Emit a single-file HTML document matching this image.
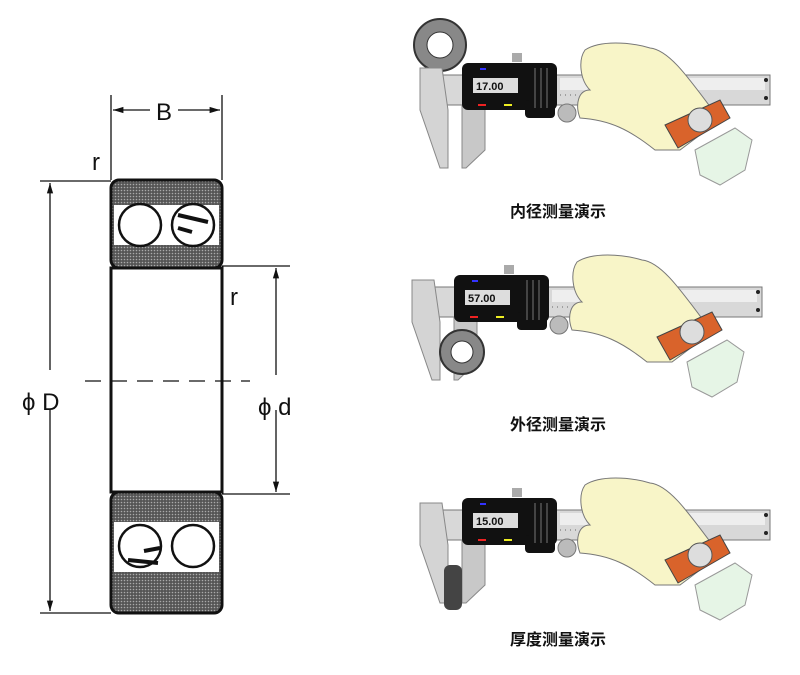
<!DOCTYPE html>
<html><head><meta charset="utf-8"><style>
body{margin:0;background:#fff;}
svg{display:block;}
.cap{font-family:"Liberation Sans","Noto Sans CJK SC",sans-serif;font-size:16px;fill:#111;font-weight:bold;}
.lbl{font-family:"Liberation Sans",sans-serif;font-size:24px;fill:#111;}
.dig{font-family:"Liberation Sans",sans-serif;font-size:11px;font-weight:bold;fill:#111;}
</style></head><body>
<svg width="800" height="675" viewBox="0 0 800 675" xmlns="http://www.w3.org/2000/svg">
<defs>
<pattern id="dots" width="3" height="3" patternUnits="userSpaceOnUse">
<rect width="3" height="3" fill="#555"/><circle cx="1.5" cy="1.5" r="0.8" fill="#aaa"/></pattern>
<marker id="ar" viewBox="0 0 10 10" refX="10" refY="5" markerWidth="8" markerHeight="8" orient="auto-start-reverse"><path d="M0,2 L10,5 L0,8z" fill="#111"/></marker>
<g id="cal">
  <rect x="20" y="75" width="350" height="30" fill="#d8d8d8" stroke="#777"/>
  <rect x="160" y="78" width="205" height="12" fill="#eee"/>
  <path d="M160,95 H260" stroke="#666" stroke-dasharray="1,4"/>
  <circle cx="366" cy="80" r="2" fill="#222"/><circle cx="366" cy="98" r="2" fill="#222"/>
  <path d="M20,68 L42,68 L48,110 L48,168 L40,168 L20,110z" fill="#d4d4d4" stroke="#888"/>
  <path d="M62,105 L85,105 L85,150 L66,168 L62,168z" fill="#c8c8c8" stroke="#888"/>
  <rect x="62" y="63" width="95" height="47" rx="6" fill="#111"/>
  <rect x="125" y="100" width="30" height="18" rx="4" fill="#111"/>
  <path d="M135,68 V108 M141,68 V108 M147,68 V108" stroke="#444" stroke-width="2"/>
  <rect x="112" y="53" width="10" height="9" fill="#aaa"/>
  <rect x="73" y="78" width="45" height="15" fill="#ddd"/>
  <rect x="80" y="68" width="6" height="2" fill="#33f"/>
  <rect x="78" y="104" width="8" height="2" fill="#e22"/>
  <rect x="104" y="104" width="8" height="2" fill="#ee2"/>
  <circle cx="167" cy="113" r="9" fill="#bbb" stroke="#777"/>
  <path d="M185,50 C200,40 230,42 250,48 C270,50 290,80 320,120 L280,150 L255,150 C230,130 210,120 180,118 C175,105 178,90 190,90 C180,80 178,60 185,50z" fill="#f8f5c8" stroke="#777"/>
  <path d="M265,125 L320,100 L330,118 L278,148z" fill="#d9632b" stroke="#444"/>
  <ellipse cx="300" cy="120" rx="12" ry="12" fill="#ddd" stroke="#555"/>
  <path d="M295,150 L335,128 L352,140 L345,170 L320,185 L300,175z" fill="#e6f5e6" stroke="#999"/>
</g>
</defs>

<rect x="111" y="180" width="111" height="88" rx="8" fill="url(#dots)" stroke="#111" stroke-width="3"/>
<rect x="114" y="205" width="105" height="40" fill="#fff"/>
<circle cx="140" cy="225" r="21" fill="#fff" stroke="#111" stroke-width="2.5"/>
<circle cx="193" cy="225" r="21" fill="#fff" stroke="#111" stroke-width="2.5"/>
<path d="M178,215 L208,222 M178,228 L192,232" stroke="#111" stroke-width="4"/>
<rect x="111" y="492" width="111" height="121" rx="8" fill="url(#dots)" stroke="#111" stroke-width="3"/>
<rect x="114" y="522" width="105" height="50" fill="#fff"/>
<circle cx="140" cy="546" r="21" fill="#fff" stroke="#111" stroke-width="2.5"/>
<circle cx="193" cy="546" r="21" fill="#fff" stroke="#111" stroke-width="2.5"/>
<path d="M128,560 L158,563 M144,551 L160,548" stroke="#111" stroke-width="4"/>
<rect x="111" y="268" width="111" height="224" fill="#fff" stroke="#111" stroke-width="3"/>
<g stroke="#111" fill="none" stroke-width="1.3">
  <line x1="111" y1="95" x2="111" y2="180"/><line x1="222" y1="95" x2="222" y2="180"/>
  <line x1="113" y1="110" x2="150" y2="110" marker-start="url(#ar)"/>
  <line x1="178" y1="110" x2="220" y2="110" marker-end="url(#ar)"/>
  <line x1="40" y1="181" x2="111" y2="181"/><line x1="40" y1="613" x2="111" y2="613"/>
  <line x1="50" y1="183" x2="50" y2="370" marker-start="url(#ar)"/>
  <line x1="50" y1="410" x2="50" y2="611" marker-end="url(#ar)"/>
  <line x1="222" y1="266" x2="290" y2="266"/><line x1="222" y1="494" x2="290" y2="494"/>
  <line x1="276" y1="268" x2="276" y2="375" marker-start="url(#ar)"/>
  <line x1="276" y1="410" x2="276" y2="492" marker-end="url(#ar)"/>
  <line x1="85" y1="381" x2="250" y2="381" stroke-dasharray="16,10"/>
</g>
<text class="lbl" x="156" y="120">B</text>
<text class="lbl" x="92" y="170">r</text>
<text class="lbl" x="230" y="305">r</text>
<text class="lbl" x="22" y="410">ϕ D</text>
<text class="lbl" x="258" y="415">ϕ d</text>

<circle cx="440" cy="45" r="26" fill="#888" stroke="#333" stroke-width="2"/>
<circle cx="440" cy="45" r="13" fill="#fff" stroke="#333"/>
<use href="#cal" x="400" y="0"/>
<text class="dig" x="476" y="90">17.00</text>
<text class="cap" x="510" y="217">内径测量演示</text>

<use href="#cal" x="392" y="212"/>
<circle cx="462" cy="352" r="22" fill="#888" stroke="#333" stroke-width="2"/>
<circle cx="462" cy="352" r="11" fill="#fff" stroke="#333"/>
<text class="dig" x="468" y="302">57.00</text>
<text class="cap" x="510" y="430">外径测量演示</text>

<use href="#cal" x="400" y="435"/>
<rect x="444" y="565" width="18" height="45" rx="6" fill="#444"/>
<text class="dig" x="476" y="525">15.00</text>
<text class="cap" x="510" y="645">厚度测量演示</text>
</svg>
</body></html>
